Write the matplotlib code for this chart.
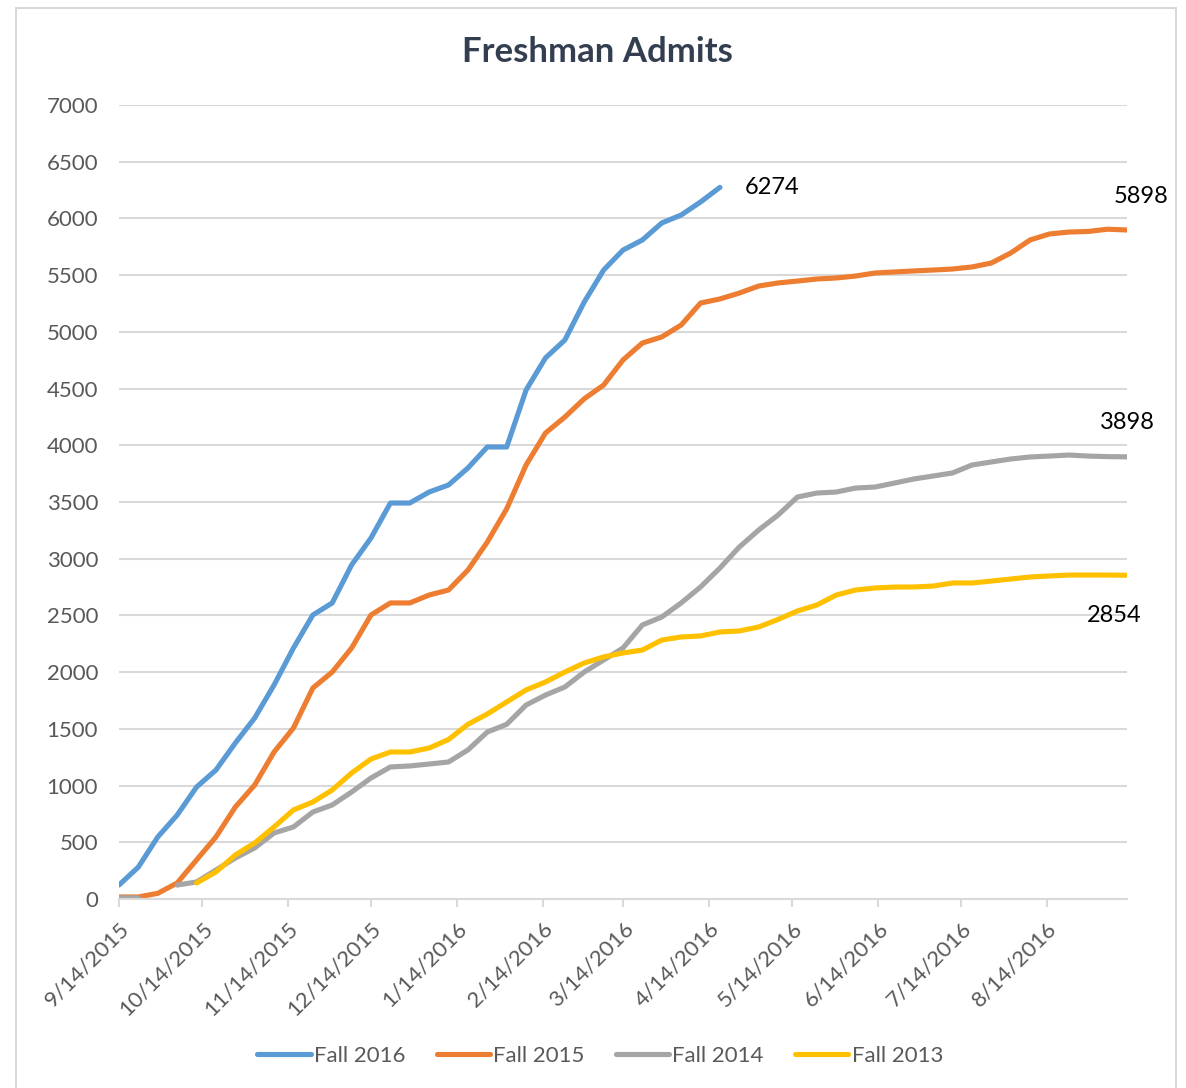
import matplotlib
matplotlib.use('Agg')
import matplotlib.pyplot as plt
import numpy as np
import pandas as pd
from matplotlib.patches import Rectangle

# Fechas semanales (eje x) y series de admisiones acumuladas
fechas = pd.date_range("2015-09-14", periods=53, freq="7D")

fall_2016 = [123, 282, 547, 740, 987, 1137, 1375, 1596, 1887, 2213, 2504, 2610,
             2945, 3183, 3491, 3491, 3588, 3650, 3800, 3985, 3985, 4487, 4770,
             4928, 5263, 5545, 5721, 5810, 5960, 6030, 6145, 6274]
fall_2015 = [18, 18, 50, 141, 344, 547, 811, 1005, 1296, 1508, 1860, 2001, 2213,
             2504, 2610, 2610, 2680, 2724, 2900, 3147, 3440, 3826, 4108, 4249,
             4410, 4531, 4752, 4902, 4955, 5060, 5254, 5290, 5342, 5404, 5431,
             5448, 5466, 5475, 5492, 5519, 5528, 5537, 5545, 5554, 5572, 5607,
             5695, 5810, 5863, 5880, 5885, 5905, 5898]
# semana 2 sin dato en Fall 2014 (hueco en la linea)
fall_2014 = [10, 10, np.nan, 123, 150, 256, 361, 450, 582, 635, 767, 829, 943, 1067,
             1164, 1173, 1190, 1208, 1314, 1472, 1540, 1710, 1798, 1869, 2001,
             2107, 2213, 2416, 2486, 2610, 2751, 2918, 3103, 3253, 3385, 3544,
             3579, 3588, 3623, 3632, 3667, 3703, 3729, 3756, 3826, 3853, 3879,
             3897, 3905, 3914, 3905, 3900, 3898]
fall_2013 = [141, 238, 388, 494, 635, 785, 855, 961, 1111, 1234, 1296, 1296,
             1331, 1406, 1540, 1631, 1737, 1843, 1913, 2001, 2081, 2134, 2169,
             2195, 2283, 2310, 2319, 2354, 2363, 2398, 2465, 2539, 2592, 2680,
             2724, 2742, 2750, 2751, 2759, 2786, 2786, 2803, 2821, 2839, 2848,
             2856, 2856, 2856, 2854]
inicio_2013 = 4  # semana en que empieza Fall 2013

series = ["Fall 2016", "Fall 2015", "Fall 2014", "Fall 2013"]
colores = ["#5B9BD5", "#ED7D31", "#A5A5A5", "#FFC000"]

tick_fechas = ["2015-09-14", "2015-10-14", "2015-11-14", "2015-12-14", "2016-01-14",
               "2016-02-14", "2016-03-14", "2016-04-14", "2016-05-14", "2016-06-14",
               "2016-07-14", "2016-08-14"]
tick_labels = ["9/14/2015", "10/14/2015", "11/14/2015", "12/14/2015", "1/14/2016",
               "2/14/2016", "3/14/2016", "4/14/2016", "5/14/2016", "6/14/2016",
               "7/14/2016", "8/14/2016"]

plt.rcParams['font.family'] = ['Lato', 'DejaVu Sans']

fig = plt.figure(figsize=(11.86, 10.88), dpi=100)
ax = fig.add_axes([119/1186, 1-899/1088, (1127-119)/1186, (899-105)/1088])

# Borde del grafico
fig.patches.append(Rectangle((16/1186, -0.02), (1176-16)/1186, 1.02-8/1088,
                             transform=fig.transFigure, fill=False,
                             edgecolor="#D9D9D9", linewidth=1.5))

# Armar series con NaN donde no hay datos
n = len(fechas)
def completar(valores, inicio=0):
    arr = np.full(n, np.nan)
    arr[inicio:inicio+len(valores)] = valores
    return arr

datos = [completar(fall_2016), completar(fall_2015), completar(fall_2014),
         completar(fall_2013, inicio_2013)]

for nombre, col, y in zip(series, colores, datos):
    ax.plot(fechas, y, color=col, lw=3.7, label=nombre,
            solid_capstyle='round', solid_joinstyle='round')

# Etiquetas de valores finales
fs_lab = 17
ult16 = len(fall_2016) - 1
ax.annotate(f"{fall_2016[-1]}", (fechas[ult16], fall_2016[-1]), xytext=(18, 0),
            textcoords='offset points', ha='left', va='center', fontsize=fs_lab, color='black')
ax.annotate(f"{fall_2015[-1]}", (fechas[-1], fall_2015[-1]), xytext=(10, 24),
            textcoords='offset points', ha='center', va='center', fontsize=fs_lab, color='black')
ax.annotate(f"{fall_2014[-1]}", (fechas[-1], fall_2014[-1]), xytext=(0, 25),
            textcoords='offset points', ha='center', va='center', fontsize=fs_lab, color='black')
ax.annotate(f"{fall_2013[-1]}", (fechas[-1], fall_2013[-1]), xytext=(-9, -29),
            textcoords='offset points', ha='center', va='center', fontsize=fs_lab, color='black')

ax.set_xlim(fechas[0], fechas[-1])
ax.set_ylim(0, 7000)
ax.set_yticks(np.arange(0, 7001, 500))
ax.set_yticklabels([str(v) for v in range(0, 7001, 500)])
ax.set_xticks(pd.to_datetime(tick_fechas))
ax.set_xticklabels(tick_labels, rotation=45, ha='right', va='top', rotation_mode='anchor')

ax.grid(True, axis='y', color="#D9D9D9", lw=1.5)
ax.set_axisbelow(True)
for s in ['top', 'right', 'left']:
    ax.spines[s].set_visible(False)
ax.spines['bottom'].set_color("#D9D9D9")
ax.spines['bottom'].set_linewidth(1.5)
ax.tick_params(axis='y', length=0, labelsize=16, labelcolor="#595959", pad=15)
ax.tick_params(axis='x', length=6, width=1.5, color="#D9D9D9", labelsize=16,
               labelcolor="#595959", pad=8)

fig.text(0.5035, 1-52/1088, "Freshman Admits", ha='center', va='center',
         fontsize=25, fontweight='bold', color="#333F50")

fig.legend(loc='center', bbox_to_anchor=(0.506, 1-1056/1088), ncol=4, frameon=False,
           fontsize=16, labelcolor="#595959", handlelength=2.4, handletextpad=0.15,
           columnspacing=1.4)

plt.savefig("out.png", dpi=100)
